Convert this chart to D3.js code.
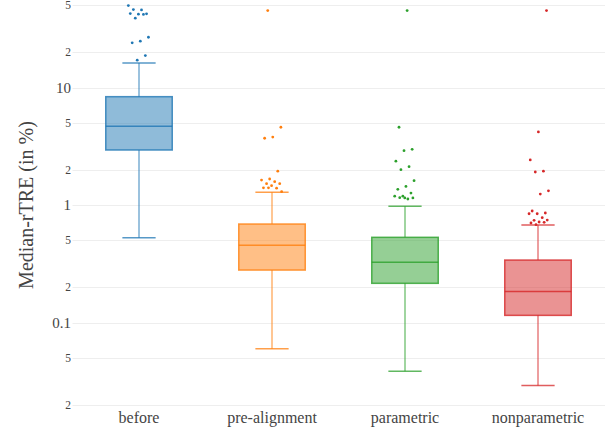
<!DOCTYPE html>
<html><head><meta charset="utf-8">
<script src="https://cdn.jsdelivr.net/npm/d3@7"></script>
<style>html,body{margin:0;padding:0;background:#fff;} svg text{font-family:"Liberation Serif","Times New Roman",serif;}</style>
</head><body><svg id="c" width="605" height="432"></svg>
<script>
const categories = ["before", "pre-alignment", "parametric", "nonparametric"];
const colors = ["#1f77b4", "#ff7f0e", "#2ca02c", "#d62728"];
// [lower whisker, Q1, median, Q3, upper whisker]
const stats_before = [0.526, 2.94, 4.68, 8.36, 16.2];
const stats_pre = [0.0597, 0.2795, 0.454, 0.689, 1.283];
const stats_param = [0.0385, 0.2155, 0.325, 0.531, 0.975];
const stats_nonparam = [0.0291, 0.115, 0.184, 0.34, 0.675];
const outliers_before = [49.8, 45.8, 46.1, 42.4, 42.1, 42.6, 41.9, 38.9, 26.8, 24.8, 24.0, 18.7, 17.1];
const outliers_pre = [45.2, 4.59, 3.79, 3.7, 1.94, 1.665, 1.63, 1.58, 1.52, 1.52, 1.46, 1.40, 1.39, 1.40, 1.30];
const outliers_param = [45.2, 4.59, 2.98, 2.9, 2.36, 2.12, 2.0, 1.61, 1.44, 1.36, 1.265, 1.19, 1.19, 1.125, 1.154, 1.15, 1.15];
const outliers_nonparam = [45.2, 4.19, 2.42, 1.94, 1.91, 1.32, 1.24, 0.889, 0.855, 0.843, 0.843, 0.78, 0.741, 0.745, 0.717, 0.703, 0.712, 0.68];
const tickValues = [50, 20, 10, 5, 2, 1, 0.5, 0.2, 0.1, 0.05, 0.02];
const tickLabels = ["5", "2", "10", "5", "2", "1", "5", "2", "0.1", "5", "2"];
const majorTicks = [10, 1, 0.1];
const yTitle = "Median-rTRE (in %)";

const stats = [stats_before, stats_pre, stats_param, stats_nonparam];
const outliers = [outliers_before, outliers_pre, outliers_param, outliers_nonparam];

const svg = d3.select("#c");
const plotLeft = 72.5, plotRight = 604.5, plotTop = 0, plotBottom = 410;
const y = d3.scaleLog().domain([0.018, 55.6]).range([plotBottom, plotTop]);
const x = d3.scaleBand().domain(categories).range([plotLeft, plotRight]).paddingInner(0).paddingOuter(0);

// gridlines
svg.append("g").selectAll("line").data(tickValues).join("line")
  .attr("x1", plotLeft).attr("x2", 605)
  .attr("y1", d => Math.round(y(d)) + 0.5).attr("y2", d => Math.round(y(d)) + 0.5)
  .attr("stroke", "#eeeeee").attr("stroke-width", 1);

// y tick labels
svg.append("g").selectAll("text").data(tickValues).join("text")
  .attr("x", 71).attr("y", d => y(d))
  .attr("text-anchor", "end").attr("dominant-baseline", "central")
  .attr("font-size", d => majorTicks.includes(d) ? 15 : 11.5)
  .attr("fill", "#444")
  .text((d, i) => tickLabels[i]);

// y title
svg.append("text")
  .attr("transform", `translate(33,${y(1)}) rotate(-90)`)
  .attr("text-anchor", "middle")
  .attr("font-size", 20).attr("fill", "#444")
  .text(yTitle);

// x labels
svg.append("g").selectAll("text").data(categories).join("text")
  .attr("x", d => x(d) + x.bandwidth() / 2).attr("y", 423)
  .attr("text-anchor", "middle")
  .attr("font-size", 16).attr("fill", "#444")
  .text(d => d);

const boxW = x.bandwidth() / 2;
const capW = boxW / 2;

categories.forEach((cat, i) => {
  const s = stats[i];
  const cx = x(cat) + x.bandwidth() / 2;
  const c = colors[i];
  const g = svg.append("g");
  g.append("line").attr("x1", cx).attr("x2", cx).attr("y1", y(s[4])).attr("y2", y(s[3]))
    .attr("stroke", c).attr("stroke-width", 1.5).attr("stroke-opacity", 0.6);
  g.append("line").attr("x1", cx).attr("x2", cx).attr("y1", y(s[1])).attr("y2", y(s[0]))
    .attr("stroke", c).attr("stroke-width", 1.5).attr("stroke-opacity", 0.6);
  [s[0], s[4]].forEach(v => {
    g.append("line").attr("x1", cx - capW / 2).attr("x2", cx + capW / 2)
      .attr("y1", y(v)).attr("y2", y(v))
      .attr("stroke", c).attr("stroke-width", 1.5).attr("stroke-opacity", 0.75);
  });
  g.append("rect").attr("x", cx - boxW / 2).attr("width", boxW)
    .attr("y", y(s[3])).attr("height", y(s[1]) - y(s[3]))
    .attr("fill", c).attr("fill-opacity", 0.5)
    .attr("stroke", c).attr("stroke-width", 1.5).attr("stroke-opacity", 0.8);
  g.append("line").attr("x1", cx - boxW / 2).attr("x2", cx + boxW / 2)
    .attr("y1", y(s[2])).attr("y2", y(s[2]))
    .attr("stroke", c).attr("stroke-width", 1.5).attr("stroke-opacity", 0.8);
  g.selectAll("circle").data(outliers[i]).join("circle")
    .attr("cx", (d, j) => cx + (((j * 0.6180339887 + i * 0.3) % 1) - 0.5) * boxW * 0.32)
    .attr("cy", d => y(d))
    .attr("r", 1.4)
    .attr("fill", c);
});
</script></body></html>
